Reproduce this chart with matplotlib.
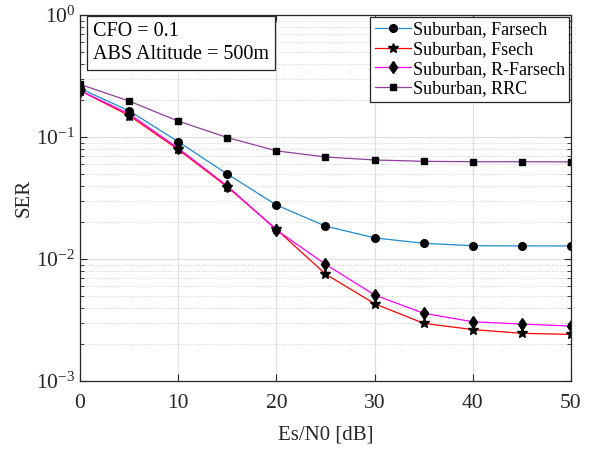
import matplotlib
matplotlib.use('Agg')
import matplotlib.pyplot as plt
from matplotlib.ticker import LogLocator, NullFormatter

plt.rcParams['font.family'] = ['Liberation Serif', 'DejaVu Serif']
plt.rcParams['mathtext.fontset'] = 'custom'
plt.rcParams['mathtext.rm'] = 'Liberation Serif'
plt.rcParams['mathtext.it'] = 'Liberation Serif:italic'

# Data
snr_db = [0, 5, 10, 15, 20, 25, 30, 35, 40, 45, 50]
ser_farsech = [0.25, 0.164, 0.0916, 0.0497, 0.0277, 0.0186, 0.0149, 0.01345, 0.01285, 0.0128, 0.0128]
ser_fsech = [0.24, 0.15, 0.079, 0.039, 0.0175, 0.00753, 0.0043, 0.00297, 0.00264, 0.00246, 0.00241]
ser_rfarsech = [0.24, 0.155, 0.0808, 0.0397, 0.0173, 0.00905, 0.00507, 0.00359, 0.00306, 0.00293, 0.00282]
ser_rrc = [0.27, 0.197, 0.135, 0.099, 0.077, 0.0686, 0.0648, 0.0632, 0.0627, 0.0627, 0.0625]

fig = plt.figure(figsize=(5.98, 4.5), dpi=100)
ax = fig.add_axes([0.1338, 0.1533, 0.821, 0.8134])

ax.semilogy(snr_db, ser_farsech, '-o', color='#1f8ad0', lw=0.9, ms=5.5, mfc='k', mec='k', label='Suburban, Farsech')
ax.semilogy(snr_db, ser_fsech, '-*', color='#ff0000', lw=0.9, ms=7, mfc='k', mec='k', label='Suburban, Fsech')
ax.semilogy(snr_db, ser_rfarsech, '-d', color='#ff00ff', lw=0.9, ms=6, mfc='k', mec='k', label='Suburban, R-Farsech')
ax.semilogy(snr_db, ser_rrc, '-s', color='#8e3f9e', lw=0.9, ms=5, mfc='k', mec='k', label='Suburban, RRC')

ax.set_xlim(0, 50)
ax.set_ylim(1e-3, 1)
ax.set_xticks([0, 10, 20, 30, 40, 50])
ax.yaxis.set_major_locator(LogLocator(base=10, numticks=10))
ax.yaxis.set_minor_locator(LogLocator(base=10, subs=range(2, 10), numticks=20))
ax.yaxis.set_minor_formatter(NullFormatter())

ax.grid(True, which='major', color='#e0e0e0', lw=0.9, ls='-')
ax.grid(True, which='minor', axis='y', color='#d0d0d0', lw=0.7, ls=':')
ax.set_axisbelow(True)

ax.tick_params(which='both', direction='in', top=True, right=True, labelsize=15.5, colors='#262626')
ax.tick_params(which='major', length=5)
ax.tick_params(which='minor', length=3)
ax.tick_params(axis='x', pad=9)
for s in ax.spines.values():
    s.set_color('#262626')
    s.set_linewidth(0.9)

ax.set_xlabel('Es/N0 [dB]', fontsize=15, color='#262626', labelpad=9)
ax.set_ylabel('SER', fontsize=15, color='#262626', labelpad=2)

ax.text(0.026, 0.982, 'CFO = 0.1\nABS Altitude = 500m', transform=ax.transAxes,
        fontsize=14.5, va='top', ha='left', linespacing=1.3,
        bbox=dict(boxstyle='square,pad=0.3', fc='white', ec='#262626', lw=0.9))

leg = ax.legend(loc='upper right', fontsize=13, frameon=True, fancybox=False,
                edgecolor='#262626', framealpha=1, borderpad=0.25, labelspacing=0.15,
                handlelength=2.0, handletextpad=0.1, borderaxespad=0.1)
leg.get_frame().set_linewidth(0.9)

fig.savefig('out.png', dpi=100)
